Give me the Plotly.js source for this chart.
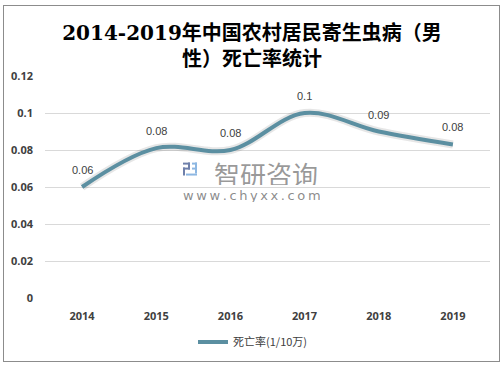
<!DOCTYPE html>
<html>
<head>
<meta charset="utf-8">
<script src="https://cdn.plot.ly/plotly-3.0.1.min.js"></script>
<style>
html,body{margin:0;padding:0;background:#fff;}
#wrap{position:relative;width:504px;height:367px;}
#chart{position:absolute;left:0;top:0;width:504px;height:367px;}
#frame{position:absolute;left:3px;top:5px;width:495px;height:355px;border:1px solid #8c8c8c;pointer-events:none;}
</style>
</head>
<body>
<div id="wrap"><div id="chart"></div><div id="frame"></div></div>
<script>
var years = ['2014', '2015', '2016', '2017', '2018', '2019'];
var rates = [0.060, 0.081, 0.080, 0.100, 0.090, 0.083];
var seriesName = '死亡率(1/10万)';
var yTicks = [0, 0.02, 0.04, 0.06, 0.08, 0.1, 0.12];
var yTickText = ['0', '0.02', '0.04', '0.06', '0.08', '0.1', '0.12'];

var labels = rates.map(function (v) { return String(Math.round(v * 100) / 100); });

var lineColor = '#5b8fa1';

var shadow = {
  x: years, y: rates, type: 'scatter', mode: 'lines',
  line: {color: 'rgba(60,60,60,0.13)', width: 8, shape: 'spline', smoothing: 1},
  hoverinfo: 'skip', showlegend: false
};
var main = {
  x: years, y: rates, type: 'scatter', mode: 'lines',
  name: seriesName,
  line: {color: lineColor, width: 4, shape: 'spline', smoothing: 1}
};

var annotations = years.map(function (yr, i) {
  return {
    x: i, y: rates[i], xref: 'x', yref: 'y', text: labels[i],
    showarrow: false, yshift: 17,
    font: {family: 'Liberation Sans, Arial, sans-serif', size: 11, color: '#404040'}
  };
});

function px(x) { return (x - 45) / 445; }
function py(y) { return (299 - y) / 223; }

annotations.push({
  xref: 'paper', yref: 'paper', x: px(266), y: py(173),
  text: '智研咨询', showarrow: false, xanchor: 'center', height: 24,
  font: {family: 'Noto Sans CJK SC', size: 26, color: 'rgba(120,120,120,0.75)'}
});
annotations.push({
  xref: 'paper', yref: 'paper', x: px(252), y: py(196),
  text: 'w\u2009w\u2009w\u2009.\u2009c\u2009h\u2009y\u2009x\u2009x\u2009.\u2009c\u2009o\u2009m',
  showarrow: false, xanchor: 'center', height: 13,
  font: {family: 'DejaVu Sans', size: 13, color: 'rgba(110,110,110,0.8)'}
});

var shapes = [
  {type: 'rect', xref: 'paper', yref: 'paper', x0: px(183), x1: px(190), y0: py(165), y1: py(163), fillcolor: '#6f80ab', line: {width: 0}},
  {type: 'rect', xref: 'paper', yref: 'paper', x0: px(183), x1: px(190), y0: py(170), y1: py(168), fillcolor: '#6f80ab', line: {width: 0}},
  {type: 'rect', xref: 'paper', yref: 'paper', x0: px(183), x1: px(185), y0: py(176), y1: py(168), fillcolor: '#6f80ab', line: {width: 0}},
  {type: 'rect', xref: 'paper', yref: 'paper', x0: px(188), x1: px(190), y0: py(170), y1: py(163), fillcolor: '#6f80ab', line: {width: 0}},
  {type: 'rect', xref: 'paper', yref: 'paper', x0: px(186), x1: px(197), y0: py(176), y1: py(174), fillcolor: '#8db7e2', line: {width: 0}},
  {type: 'rect', xref: 'paper', yref: 'paper', x0: px(192), x1: px(197), y0: py(170), y1: py(168), fillcolor: '#8db7e2', line: {width: 0}},
  {type: 'rect', xref: 'paper', yref: 'paper', x0: px(195), x1: px(197), y0: py(174), y1: py(163), fillcolor: '#8db7e2', line: {width: 0}},
  {type: 'rect', xref: 'paper', yref: 'paper', x0: px(192), x1: px(197), y0: py(165), y1: py(163), fillcolor: '#8db7e2', line: {width: 0}}
];

var layout = {
  width: 504, height: 367,
  margin: {l: 45, r: 14, t: 76, b: 68},
  paper_bgcolor: '#ffffff', plot_bgcolor: '#ffffff',
  title: {
    text: '2014-2019年中国农村居民寄生虫病（男<br>性）死亡率统计',
    font: {family: 'DejaVu Serif, Noto Sans CJK SC, serif', size: 20, color: '#000000', weight: 'bold'},
    x: 0.5, xref: 'container', xanchor: 'center',
    y: 0.891, yref: 'container', yanchor: 'top'
  },
  xaxis: {
    type: 'category', range: [-0.5, 5.5], autorange: false,
    showgrid: false, zeroline: false, showline: false,
    ticks: '', ticklabelstandoff: 10,
    tickfont: {family: 'Open Sans, Liberation Sans, sans-serif', size: 11, color: '#404040', weight: 'bold'}
  },
  yaxis: {
    range: [0, 0.12], autorange: false, tickvals: yTicks, ticktext: yTickText,
    showgrid: true, gridcolor: '#d9d9d9', gridwidth: 1,
    zeroline: false, showline: false, ticks: '', ticklabelstandoff: 11,
    tickfont: {family: 'Open Sans, Liberation Sans, sans-serif', size: 11, color: '#404040', weight: 'bold'}
  },
  showlegend: true,
  legend: {
    orientation: 'h', x: px(193), xanchor: 'left', y: -43 / 223, yanchor: 'middle',
    font: {family: 'Noto Sans CJK SC, sans-serif', size: 11, color: '#404040'},
    bgcolor: 'rgba(0,0,0,0)'
  },
  annotations: annotations,
  shapes: shapes
};

Plotly.newPlot('chart', [shadow, main], layout, {displayModeBar: false, staticPlot: true});
</script>
</body>
</html>
